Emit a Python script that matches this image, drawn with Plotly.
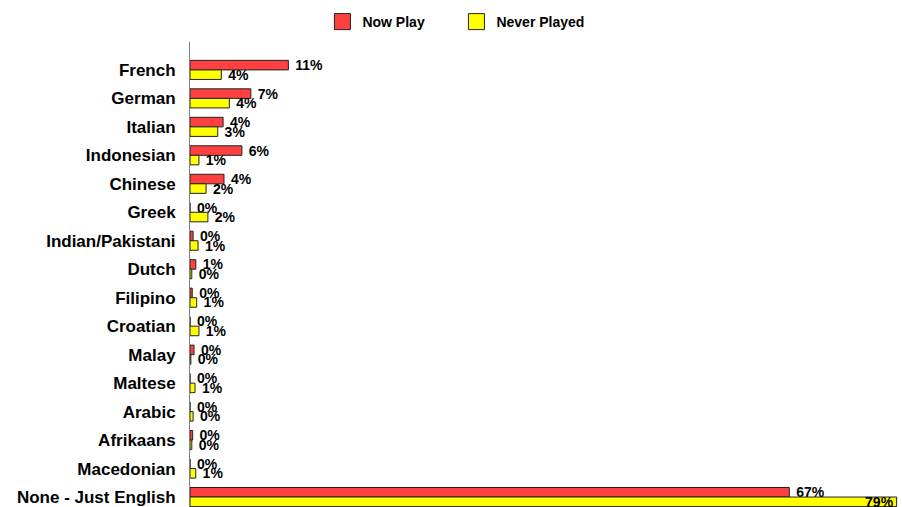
import plotly.graph_objects as go

# Languages played, top to bottom
languages = [
    "French", "German", "Italian", "Indonesian", "Chinese", "Greek",
    "Indian/Pakistani", "Dutch", "Filipino", "Croatian", "Malay",
    "Maltese", "Arabic", "Afrikaans", "Macedonian", "None - Just English",
]

# Share of respondents (%)
now_play = [11.0, 6.8, 3.7, 5.8, 3.8, 0.0, 0.35, 0.65, 0.25, 0.0, 0.45,
            0.0, 0.0, 0.3, 0.0, 67.0]
never_played = [3.5, 4.4, 3.1, 1.0, 1.8, 2.0, 0.9, 0.2, 0.75, 1.0, 0.1,
                0.56, 0.35, 0.2, 0.64, 79.0]

series = [("Now Play", now_play, "#FF4040"),
          ("Never Played", never_played, "#FFFF00")]

FONT = "Liberation Sans, Arial, sans-serif"
label_font = dict(family=FONT, size=14, color="black", weight="bold")
OUTLINE = "#222222"

fig = go.Figure()
for name, values, color in series:
    # a bar running to the right edge keeps its label inside the bar end
    positions = ["inside" if v > 75 else "outside" for v in values]
    fig.add_trace(go.Bar(
        name=name, y=languages, x=values, orientation="h",
        marker=dict(color=color, line=dict(color=OUTLINE, width=1)),
        texttemplate="\u00a0%{x:.0f}%", textposition=positions,
        insidetextanchor="end",
        textfont=label_font, insidetextfont=label_font,
        outsidetextfont=label_font,
        cliponaxis=False, constraintext="none",
        legendgroup=name, showlegend=False, hoverinfo="skip",
    ))

# legend keys drawn as larger square swatches
for name, values, color in series:
    fig.add_trace(go.Scatter(
        name=name, x=[None], y=[None], mode="markers",
        marker=dict(symbol="square", size=16, color=color,
                    line=dict(color=OUTLINE, width=1)),
        legendgroup=name, showlegend=True, hoverinfo="skip",
    ))

fig.update_layout(
    width=902, height=507,
    margin=dict(l=190, r=0, t=42, b=0),
    paper_bgcolor="white", plot_bgcolor="white",
    barmode="group", bargap=0.33, bargroupgap=0.0,
    font=dict(family=FONT, color="black"),
    showlegend=True,
    legend=dict(
        orientation="h", x=0.186, xanchor="left",
        yref="container", y=1 - 22 / 507, yanchor="middle",
        entrywidth=89, entrywidthmode="pixels",
        font=dict(family=FONT, size=14, color="black", weight="bold"),
        traceorder="normal",
    ),
    xaxis=dict(range=[0, 79.6], visible=False, showgrid=False, zeroline=False),
    yaxis=dict(
        type="category", categoryorder="array", categoryarray=languages,
        range=[15.35, -0.98],
        showline=True, linecolor="#808080", linewidth=1,
        showgrid=False, zeroline=False, ticks="",
        ticklabelstandoff=10,
        tickfont=dict(family=FONT, size=17, color="black", weight="bold"),
    ),
)

fig.write_html("out.html")
